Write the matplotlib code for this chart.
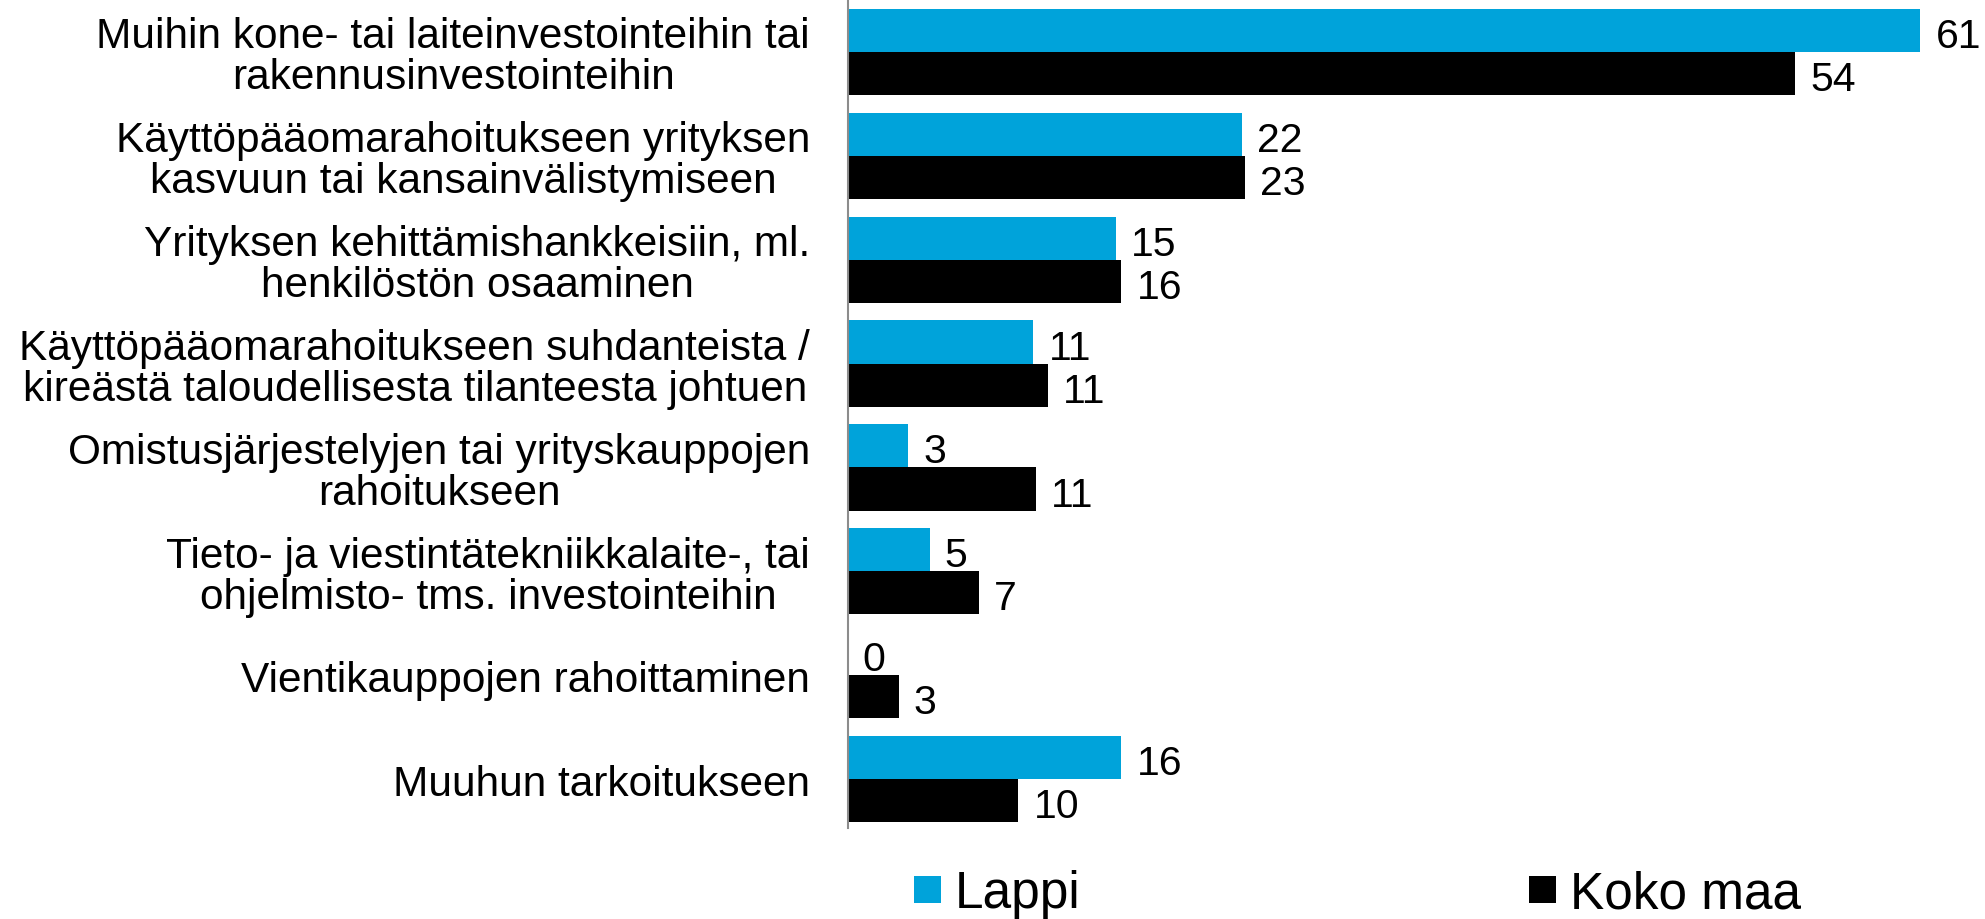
import matplotlib.pyplot as plt
import numpy as np

plt.rcParams['font.family'] = ['Liberation Sans', 'DejaVu Sans']

# data (bar lengths, labels are rounded)
categories = [
    "Muihin kone- tai laiteinvestointeihin tai\nrakennusinvestointeihin",
    "Käyttöpääomarahoitukseen yrityksen\nkasvuun tai kansainvälistymiseen",
    "Yrityksen kehittämishankkeisiin, ml.\nhenkilöstön osaaminen",
    "Käyttöpääomarahoitukseen suhdanteista /\nkireästä taloudellisesta tilanteesta johtuen",
    "Omistusjärjestelyjen tai yrityskauppojen\nrahoitukseen",
    "Tieto- ja viestintätekniikkalaite-, tai\nohjelmisto- tms. investointeihin",
    "Vientikauppojen rahoittaminen",
    "Muuhun tarkoitukseen",
]
lappi = [61.0, 22.4, 15.25, 10.56, 3.45, 4.66, 0.0, 15.56]
koko_maa = [53.9, 22.6, 15.56, 11.4, 10.7, 7.45, 2.9, 9.7]
series_names = ["Lappi", "Koko maa"]
colors = ["#00A3DA", "#000000"]

fig = plt.figure(figsize=(19.85, 9.2), dpi=100)
ax = fig.add_axes([0.427, 0.099, 0.567, 0.901])

y = np.arange(len(categories))
h = 0.415
b1 = ax.barh(y - h / 2, lappi, height=h, color=colors[0], label=series_names[0])
b2 = ax.barh(y + h / 2, koko_maa, height=h, color=colors[1], label=series_names[1])

for bars, vals in ((b1, lappi), (b2, koko_maa)):
    for bar, v in zip(bars, vals):
        ax.annotate(f"{v:.0f}", (bar.get_width(), bar.get_y() + bar.get_height() / 2),
                    xytext=(11, -4), textcoords='offset points',
                    ha='left', va='center', fontsize=29.5)

ax.set_xlim(0, 64)
ax.set_ylim(7.47, -0.51)
ax.set_yticks(y)
ax.set_yticklabels(categories, fontsize=30.5, multialignment='center', linespacing=1.03)
ax.tick_params(axis='y', length=0, pad=27)
ax.set_xticks([])
for s in ['top', 'right', 'bottom']:
    ax.spines[s].set_visible(False)
ax.spines['left'].set_color('#8c8c8c')
ax.spines['left'].set_linewidth(1.5)

fig.legend(handles=[b1, b2], loc='center left', bbox_to_anchor=(914 / 1985, 1 - 895 / 920),
           ncol=2, frameon=False, fontsize=37, handlelength=0.53, handleheight=0.44,
           handletextpad=0.27, columnspacing=8.72, borderpad=0, borderaxespad=0)

fig.savefig('out.png', dpi=100)
